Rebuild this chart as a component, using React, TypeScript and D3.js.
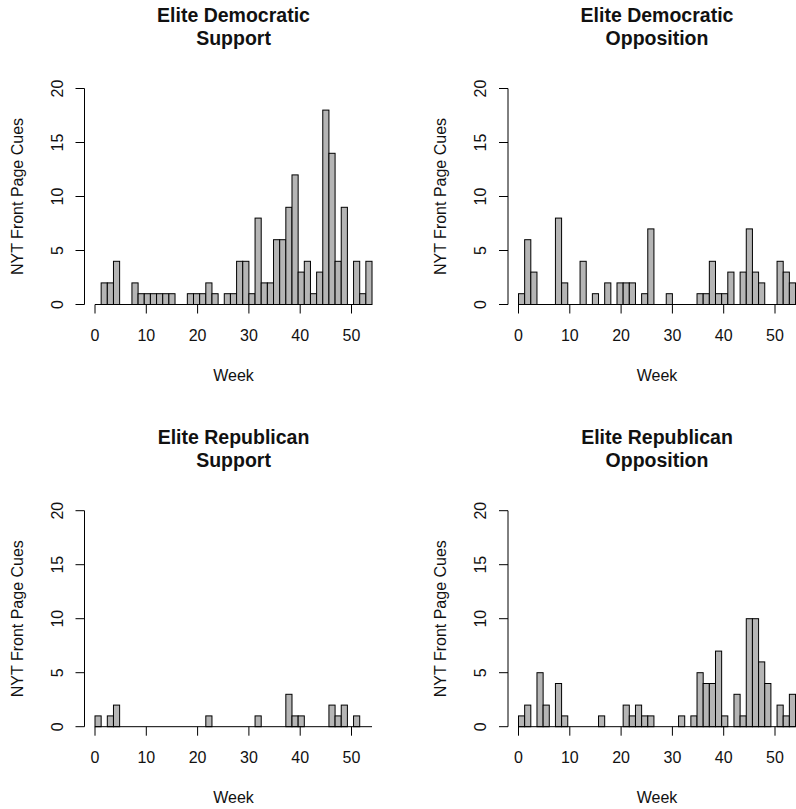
import React, { useEffect, useRef } from 'react';
import * as d3 from 'd3';

// weekly counts of NYT front page cues, bins of 1.2 weeks from 0 to 54
const demSupport = [0, 2, 2, 4, 0, 0, 2, 1, 1, 1, 1, 1, 1, 0, 0, 1, 1, 1, 2, 1, 0, 1, 1, 4, 4, 1, 8, 2, 2, 6, 6, 9, 12, 3, 4, 1, 3, 18, 14, 4, 9, 0, 4, 1, 4];
const demOpposition = [1, 6, 3, 0, 0, 0, 8, 2, 0, 0, 4, 0, 1, 0, 2, 0, 2, 2, 2, 0, 1, 7, 0, 0, 1, 0, 0, 0, 0, 1, 1, 4, 1, 1, 3, 0, 3, 7, 3, 2, 0, 0, 4, 3, 2];
const repSupport = [1, 0, 1, 2, 0, 0, 0, 0, 0, 0, 0, 0, 0, 0, 0, 0, 0, 0, 1, 0, 0, 0, 0, 0, 0, 0, 1, 0, 0, 0, 0, 3, 1, 1, 0, 0, 0, 0, 2, 1, 2, 0, 1, 0, 0];
const repOpposition = [1, 2, 0, 5, 2, 0, 4, 1, 0, 0, 0, 0, 0, 1, 0, 0, 0, 2, 1, 2, 1, 1, 0, 0, 0, 0, 1, 0, 1, 5, 4, 4, 7, 1, 0, 3, 1, 10, 10, 6, 4, 0, 2, 1, 3];

const binWidth = 1.2;
const xTicks = [0, 10, 20, 30, 40, 50];
const yTicks = [0, 5, 10, 15, 20];

const panels = [
  { title: ['Elite Democratic', 'Support'], values: demSupport, col: 0, row: 0 },
  { title: ['Elite Democratic', 'Opposition'], values: demOpposition, col: 1, row: 0 },
  { title: ['Elite Republican', 'Support'], values: repSupport, col: 0, row: 1 },
  { title: ['Elite Republican', 'Opposition'], values: repOpposition, col: 1, row: 1 },
];

const FONT = "'Liberation Sans', Arial, Helvetica, sans-serif";

function App() {
  const ref = useRef<SVGSVGElement>(null);

  useEffect(() => {
    const svg = d3.select(ref.current);
    svg.selectAll('*').remove();

    const colX = [95, 518.5];
    const rowY = [304.5, 726.7];
    const pxWeek = 5.13;
    const pxUnit = 10.8;

    panels.forEach(p => {
      const x0 = colX[p.col];
      const y0 = rowY[p.row];
      const x = d3.scaleLinear().domain([0, 54]).range([x0, x0 + 54 * pxWeek]);
      const y = d3.scaleLinear().domain([0, 20]).range([y0, y0 - 20 * pxUnit]);
      const g = svg.append('g').attr('font-family', FONT);

      const bins = p.values.map((v, i) => ({ x0: i * binWidth, x1: (i + 1) * binWidth, v }));

      g.selectAll('rect.bar')
        .data(bins)
        .join('rect')
        .attr('class', 'bar')
        .attr('x', d => x(d.x0))
        .attr('y', d => y(d.v))
        .attr('width', d => x(d.x1) - x(d.x0))
        .attr('height', d => y(0) - y(d.v))
        .attr('fill', '#b5b5b5')
        .attr('stroke', '#000')
        .attr('stroke-width', 1);

      // baseline of the empty bins + x axis
      const ax = g.append('g');
      ax.append('line')
        .attr('x1', x(0)).attr('x2', x(54))
        .attr('y1', y0).attr('y2', y0)
        .attr('stroke', '#000');
      ax.selectAll('line.tick')
        .data(xTicks)
        .join('line')
        .attr('class', 'tick')
        .attr('x1', d => x(d)).attr('x2', d => x(d))
        .attr('y1', y0).attr('y2', y0 + 9)
        .attr('stroke', '#000');
      ax.selectAll('text')
        .data(xTicks)
        .join('text')
        .attr('x', d => x(d))
        .attr('y', y0 + 36)
        .attr('text-anchor', 'middle')
        .attr('font-size', 16)
        .attr('fill', '#111')
        .text(d => d);

      g.append('text')
        .attr('x', (x(-2.16) + x(56.16)) / 2)
        .attr('y', y0 + 76)
        .attr('text-anchor', 'middle')
        .attr('font-size', 16)
        .attr('fill', '#111')
        .text('Week');

      // y axis
      const axisX = x0 - 10.5;
      const ay = g.append('g');
      ay.append('line')
        .attr('x1', axisX).attr('x2', axisX)
        .attr('y1', y(0)).attr('y2', y(20))
        .attr('stroke', '#000');
      ay.selectAll('line.tick')
        .data(yTicks)
        .join('line')
        .attr('class', 'tick')
        .attr('x1', axisX - 9).attr('x2', axisX)
        .attr('y1', d => y(d)).attr('y2', d => y(d))
        .attr('stroke', '#000');
      ay.selectAll('text')
        .data(yTicks)
        .join('text')
        .attr('transform', d => `translate(${axisX - 22},${y(d)}) rotate(-90)`)
        .attr('text-anchor', 'middle')
        .attr('font-size', 16)
        .attr('fill', '#111')
        .text(d => d);

      g.append('text')
        .attr('transform', `translate(${axisX - 62},${y(10)}) rotate(-90)`)
        .attr('text-anchor', 'middle')
        .attr('font-size', 16)
        .attr('fill', '#111')
        .text('NYT Front Page Cues');

      // title
      const cx = (x(-2.16) + x(56.16)) / 2;
      const ty = p.row === 0 ? 22 : 443.5;
      p.title.forEach((t, i) => {
        g.append('text')
          .attr('x', cx)
          .attr('y', ty + i * 23)
          .attr('text-anchor', 'middle')
          .attr('font-size', 19.5)
          .attr('font-weight', 'bold')
          .attr('fill', '#111')
          .text(t);
      });
    });
  }, []);

  return (
    <svg
      ref={ref}
      width={796}
      height={809}
      style={{ position: 'absolute', left: 0, top: 0, background: '#fff' }}
    />
  );
}

export default App;
